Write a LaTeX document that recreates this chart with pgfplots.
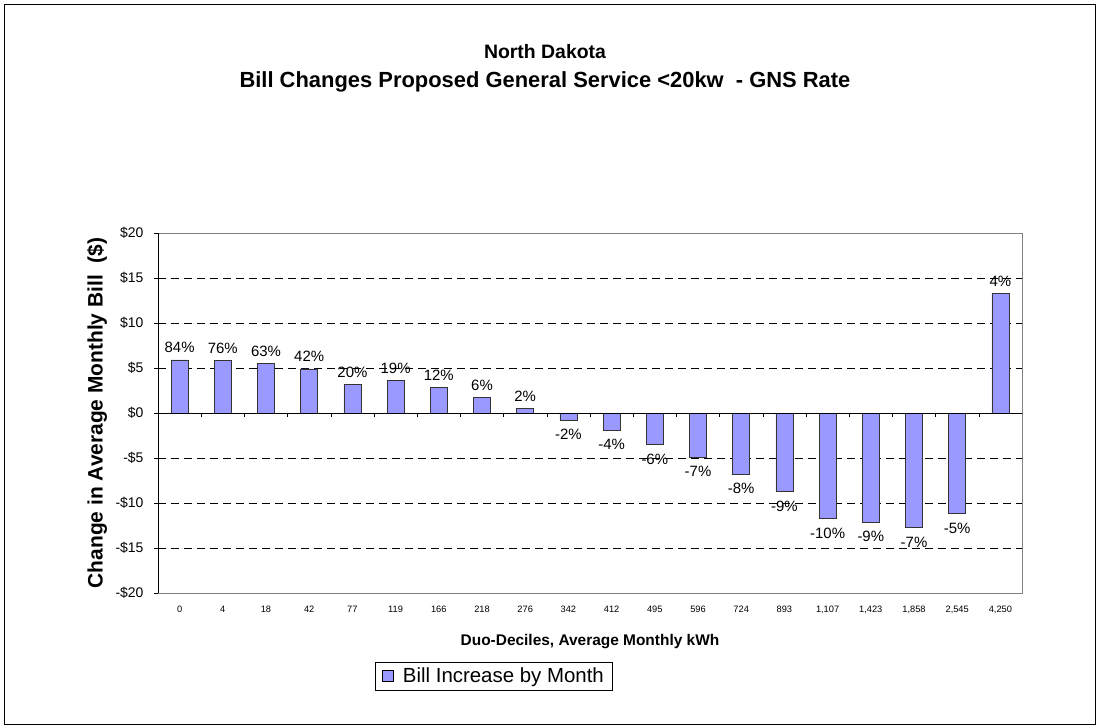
\documentclass[border=0pt]{standalone}
\usepackage{pgfplots}
\pgfplotsset{compat=1.18}
\usepackage{pgfplotstable}
\usepackage{fontspec}
\setmainfont{Liberation Sans}
\definecolor{barblue}{RGB}{153,153,255}
\definecolor{framegray}{RGB}{128,128,128}

\pgfplotstableread{
x y lab
0 5.9 84\%
1 5.8 76\%
2 5.55 63\%
3 4.9 42\%
4 3.2 20\%
5 3.6 19\%
6 2.8 12\%
7 1.75 6\%
8 0.55 2\%
9 -0.8 -2\%
10 -1.9 -4\%
11 -3.5 -6\%
12 -4.9 -7\%
13 -6.8 -8\%
14 -8.75 -9\%
15 -11.7 -10\%
16 -12.1 -9\%
17 -12.7 -7\%
18 -11.2 -5\%
19 13.3 4\%
}\data

\begin{document}
\begin{tikzpicture}
\useasboundingbox (-158bp,-135bp) rectangle (941bp,593bp);
\fill[white] (-158bp,-135bp) rectangle (941bp,593bp);
\draw[black,line width=0.8bp] (-154bp,-131bp) rectangle (937bp,589bp);
\node[font=\fontsize{19.5}{23}\selectfont\bfseries] at (387bp,541bp) {North Dakota};
\node[font=\fontsize{22}{26}\selectfont\bfseries] at (387bp,511bp) {Bill Changes Proposed General Service <20kw\ \ - GNS Rate};
\begin{axis}[
  scale only axis,
  width=864bp, height=360bp,
  xmin=-0.5, xmax=19.5,
  ymin=-20, ymax=20,
  ytick={-20,-15,...,20},
  yticklabels={-\$20,-\$15,-\$10,-\$5,\$0,\$5,\$10,\$15,\$20},
  xtick={0,...,19},
  xticklabels={0,4,18,42,77,119,166,218,276,342,412,495,596,724,893,{1,107},{1,423},{1,858},{2,545},{4,250}},
  /pgf/number format/assume math mode=true,
  xtick pos=bottom, ytick pos=left,
  tick align=outside,
  major x tick style={draw=none},
  major tick length=4bp,
  ytick style={black},
  yticklabel style={font=\fontsize{14}{16}\selectfont, xshift=-7bp},
  xticklabel style={font=\fontsize{9.3}{11}\selectfont, yshift=-6bp},
  axis line style={framegray},
  ymajorgrids,
  major grid style={black, dash pattern=on 8bp off 5bp, line width=0.6bp},
  xlabel={Duo-Deciles, Average Monthly kWh},
  xlabel style={font=\fontsize{15.5}{18}\selectfont\bfseries, at={(axis description cs:0.5,-0.136)}, anchor=center},
  ylabel={Change in Average Monthly Bill\ \ (\$)},
  ylabel style={font=\fontsize{21}{24}\selectfont\bfseries, at={(axis description cs:-0.0706,0.5)}, anchor=center},
  legend style={at={(axis description cs:0.389,-0.231)}, anchor=center, draw=black, line width=0.8bp, font=\fontsize{20.5}{24}\selectfont, inner xsep=7bp, inner ysep=4bp},
  legend image code/.code={\draw[fill=barblue,draw=black,line width=0.6bp] (0bp,-5.5bp) rectangle (11bp,5.5bp);},
  clip=false,
]
\addplot[ybar, bar width=17bp, bar shift=0pt, fill=barblue, draw=black!80, line width=0.7bp,
  restrict y to domain=0:100,
  nodes near coords, point meta=explicit symbolic,
  nodes near coords style={font=\fontsize{15}{17}\selectfont, inner sep=2.5bp, anchor=south, yshift=4bp},
] table[x=x, y=y, meta=lab] {\data};
\addlegendentry{\hspace{7bp}Bill Increase by Month}
\addplot[ybar, bar width=17bp, bar shift=0pt, fill=barblue, draw=black!80, line width=0.7bp,
  restrict y to domain=-100:-0.0001, forget plot,
  nodes near coords, point meta=explicit symbolic,
  nodes near coords style={font=\fontsize{15}{17}\selectfont, inner sep=2.5bp, anchor=north, yshift=-6.5bp},
] table[x=x, y=y, meta=lab] {\data};
\draw[black, line width=0.8bp] (axis cs:-0.5,0) -- (axis cs:19.5,0);
\draw[black, line width=0.8bp] (rel axis cs:0,0) -- (rel axis cs:0,1);
\pgfplotsinvokeforeach{0.5,1.5,...,18.5}{\draw[black, line width=0.6bp] (axis cs:#1,0) -- ([yshift=-4bp]axis cs:#1,0);}
\end{axis}
\end{tikzpicture}
\end{document}
